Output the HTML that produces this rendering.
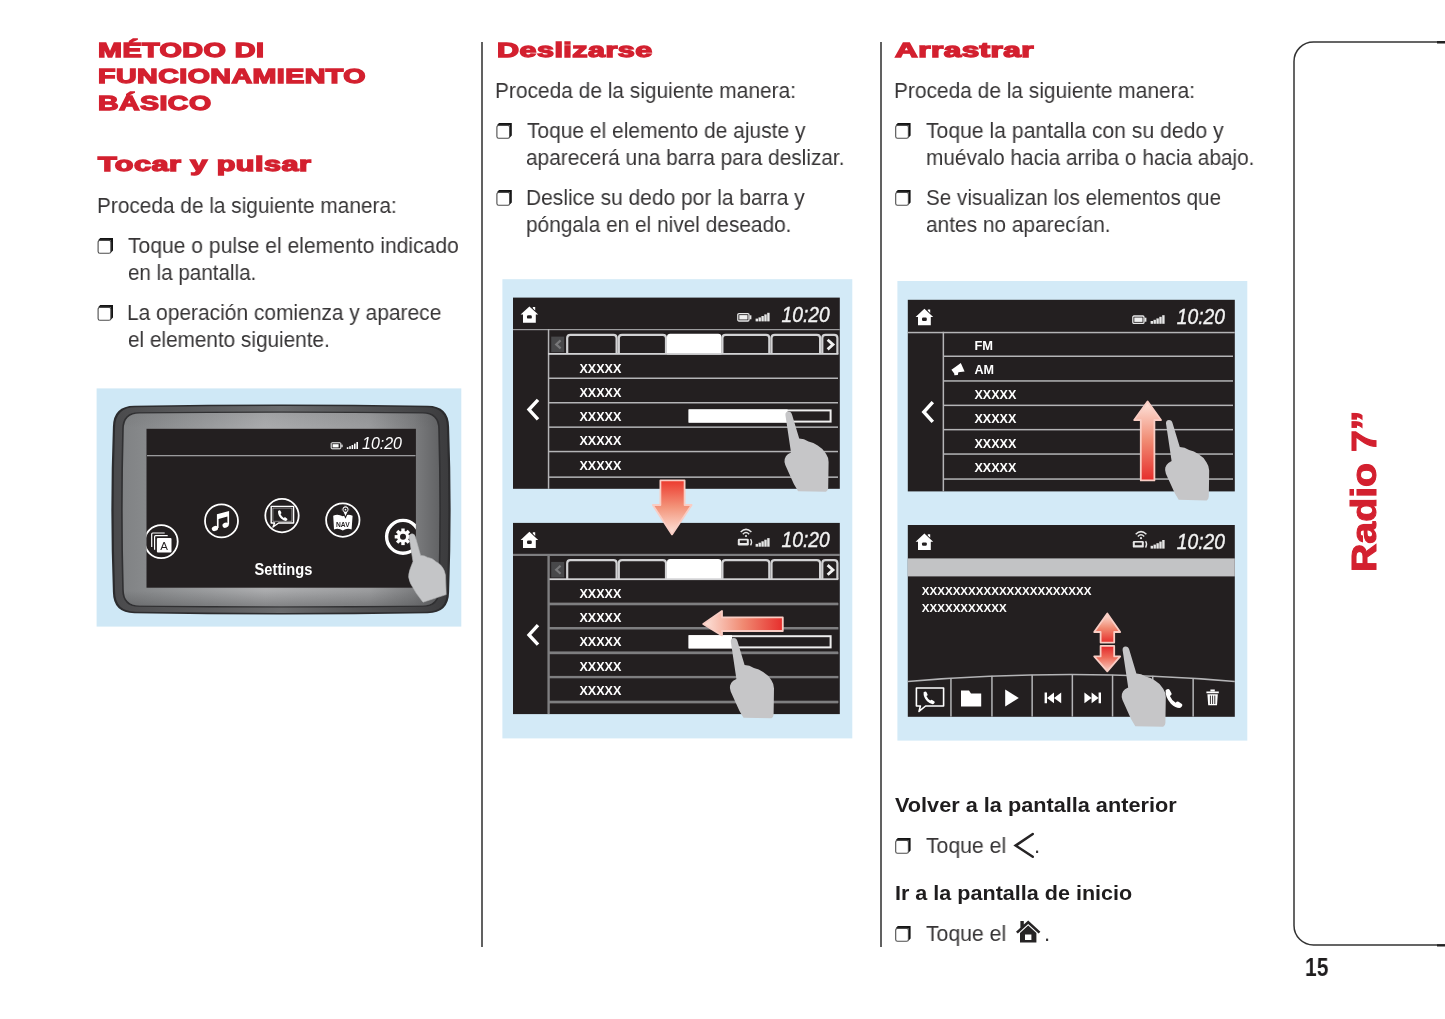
<!DOCTYPE html>
<html lang="es"><head><meta charset="utf-8"><title>Radio 7 - 15</title>
<style>
html,body{margin:0;padding:0;background:#fff;}
body{width:1445px;height:1019px;position:relative;overflow:hidden;font-family:"Liberation Sans",sans-serif;}
.t{position:absolute;white-space:nowrap;line-height:1;transform-origin:0 0;will-change:transform;}
.h{color:#d3202f;font-weight:bold;-webkit-text-stroke:1.3px #d3202f;letter-spacing:0.3px;}
.b{color:#373536;}
.bb{color:#1f1d1e;font-weight:bold;}
.pn{color:#1f1d1e;font-weight:bold;}
.h2{color:#d3202f;font-weight:bold;-webkit-text-stroke:1.1px #d3202f;}
.vl{position:absolute;width:1.7px;background:#616161;}
.abs{position:absolute;left:0;top:0;will-change:transform;}
</style></head>
<body>
<div class="vl" style="left:481.15px;top:41.5px;height:905.2px"></div>
<div class="vl" style="left:880.2px;top:41.5px;height:905.2px"></div>
<svg class="abs" width="1445" height="1019" viewBox="0 0 1445 1019"><defs><g id="cb"><path d="M2.6 0 H15.4 V12.4 L13.2 14.8 V2.3 H0.5 Z" fill="#141414"/><rect x="0.5" y="2.4" width="12.7" height="12.9" rx="1.8" fill="#fff" stroke="#4c4c4c" stroke-width="1.1"/></g></defs>
<use href="#cb" x="97.6" y="238.0"/><use href="#cb" x="97.6" y="305.0"/><use href="#cb" x="496.4" y="123.0"/><use href="#cb" x="496.4" y="190.0"/><use href="#cb" x="895.2" y="123.0"/><use href="#cb" x="895.2" y="190.0"/><use href="#cb" x="895.2" y="838.0"/><use href="#cb" x="895.2" y="926.0"/></svg>
<div class="t h" style="left:97.8px;top:41.33px;font-size:19.4px;transform:scaleX(1.4835);">MÉTODO DI</div>
<div class="t h" style="left:97.8px;top:67.33px;font-size:19.4px;transform:scaleX(1.4758);">FUNCIONAMIENTO</div>
<div class="t h" style="left:97.8px;top:94.33px;font-size:19.4px;transform:scaleX(1.4699);">BÁSICO</div>
<div class="t h" style="left:98.4px;top:155.33px;font-size:19.4px;transform:scaleX(1.5762);">Tocar y pulsar</div>
<div class="t b" style="left:97.2px;top:194.96px;font-size:22.2px;transform:scaleX(0.9384);">Proceda de la siguiente manera:</div>
<div class="t b" style="left:127.9px;top:234.96px;font-size:22.2px;transform:scaleX(0.9510);">Toque o pulse el elemento indicado</div>
<div class="t b" style="left:127.9px;top:261.96px;font-size:22.2px;transform:scaleX(0.9286);">en la pantalla.</div>
<div class="t b" style="left:127.2px;top:301.96px;font-size:22.2px;transform:scaleX(0.9438);">La operación comienza y aparece</div>
<div class="t b" style="left:127.9px;top:328.96px;font-size:22.2px;transform:scaleX(0.9349);">el elemento siguiente.</div>
<div class="t h" style="left:497px;top:41.33px;font-size:19.4px;transform:scaleX(1.5735);">Deslizarse</div>
<div class="t b" style="left:495.2px;top:79.96px;font-size:22.2px;transform:scaleX(0.9422);">Proceda de la siguiente manera:</div>
<div class="t b" style="left:526.8px;top:119.96px;font-size:22.2px;transform:scaleX(0.9444);">Toque el elemento de ajuste y</div>
<div class="t b" style="left:526.4px;top:146.96px;font-size:22.2px;transform:scaleX(0.9390);">aparecerá una barra para deslizar.</div>
<div class="t b" style="left:526.2px;top:186.96px;font-size:22.2px;transform:scaleX(0.9452);">Deslice su dedo por la barra y</div>
<div class="t b" style="left:526.4px;top:213.96px;font-size:22.2px;transform:scaleX(0.9398);">póngala en el nivel deseado.</div>
<div class="t h" style="left:895.4px;top:41.33px;font-size:19.4px;transform:scaleX(1.6219);">Arrastrar</div>
<div class="t b" style="left:894.0px;top:79.96px;font-size:22.2px;transform:scaleX(0.9422);">Proceda de la siguiente manera:</div>
<div class="t b" style="left:925.8px;top:119.96px;font-size:22.2px;transform:scaleX(0.9536);">Toque la pantalla con su dedo y</div>
<div class="t b" style="left:925.8px;top:146.96px;font-size:22.2px;transform:scaleX(0.9378);">muévalo hacia arriba o hacia abajo.</div>
<div class="t b" style="left:926.0px;top:186.96px;font-size:22.2px;transform:scaleX(0.9306);">Se visualizan los elementos que</div>
<div class="t b" style="left:926.0px;top:213.96px;font-size:22.2px;transform:scaleX(0.9407);">antes no aparecían.</div>
<div class="t bb" style="left:895.0px;top:795.14px;font-size:20.8px;transform:scaleX(1.0427);">Volver a la pantalla anterior</div>
<div class="t b" style="left:925.8px;top:834.96px;font-size:22.2px;transform:scaleX(0.9560);">Toque el</div>
<div class="t b" style="left:1034.2px;top:834.96px;font-size:22.2px;">.</div>
<div class="t bb" style="left:895.0px;top:883.14px;font-size:20.8px;transform:scaleX(1.0365);">Ir a la pantalla de inicio</div>
<div class="t b" style="left:925.8px;top:922.96px;font-size:22.2px;transform:scaleX(0.9560);">Toque el</div>
<div class="t b" style="left:1044.2px;top:922.96px;font-size:22.2px;">.</div>
<div class="t pn" style="left:1305.4px;top:954.40px;font-size:26.4px;transform:scaleX(0.7970);">15</div>
<div class="t h2" style="left:1346.10px;top:572.2px;font-size:35.2px;transform:rotate(-90deg) scaleX(1.1162);">Radio 7”</div>
<svg class="abs" width="1445" height="1019" viewBox="0 0 1445 1019">
<path d="M1446 41.9 H1313.5 A19.5 19.5 0 0 0 1294 61.4 V925.4 A19.5 19.5 0 0 0 1313.5 944.9 H1446" fill="none" stroke="#333" stroke-width="1.5"/>
<path d="M1437 42.2 H1446 M1437 945.4 H1446" stroke="#222" stroke-width="2.4" fill="none"/>
</svg>
<svg class="abs" width="1445" height="1019" viewBox="0 0 1445 1019">
<defs>
<linearGradient id="bz" x1="0" x2="1" y1="0" y2="0">
<stop offset="0" stop-color="#808284"/><stop offset="0.1" stop-color="#8a8c8e"/><stop offset="0.45" stop-color="#abacae"/><stop offset="0.78" stop-color="#9a9b9d"/><stop offset="0.92" stop-color="#7c7d7f"/><stop offset="1" stop-color="#626365"/>
</linearGradient>
<linearGradient id="bzv" x1="0" x2="0" y1="0" y2="1">
<stop offset="0" stop-color="#4a4b4d" stop-opacity="0.1"/><stop offset="0.08" stop-color="#4a4b4d" stop-opacity="0"/><stop offset="0.92" stop-color="#4a4b4d" stop-opacity="0"/><stop offset="1" stop-color="#4a4b4d" stop-opacity="0.4"/>
</linearGradient>
<linearGradient id="ring" x1="0" x2="1" y1="0" y2="0">
<stop offset="0" stop-color="#4a4a4c"/><stop offset="0.5" stop-color="#6a6b6d"/><stop offset="1" stop-color="#3c3c3e"/>
</linearGradient>
<clipPath id="sc1"><rect x="146.5" y="428.8" width="269.4" height="158.9"/></clipPath>
</defs>
<rect x="96.6" y="388.4" width="364.7" height="238.2" fill="#cfe8f6"/>
<!-- device body -->
<path d="M134.4 405.7 Q281.0 403.3 427.6 405.7 Q448.8 405.9 449.1 426.9 Q452.2 509.5 449.1 592.1 Q448.8 613.1 427.6 613.3 Q281.0 615.7 134.4 613.3 Q113.2 613.1 112.9 592.1 Q109.8 509.5 112.9 426.9 Q113.2 405.9 134.4 405.7 Z" fill="#2c2c2e"/>
<path d="M135.5 407.2 Q281.0 405.0 426.5 407.2 Q446.7 407.4 446.9 427.4 Q449.8 509.5 446.9 591.6 Q446.7 611.6 426.5 611.8 Q281.0 614.0 135.5 611.8 Q115.3 611.6 115.1 591.6 Q112.2 509.5 115.1 427.4 Q115.3 407.4 135.5 407.2 Z" fill="url(#ring)"/>
<path d="M138.9 412.3 Q281.0 410.5 423.1 412.3 Q439.6 412.4 439.8 428.8 Q442.1 509.5 439.8 590.2 Q439.6 606.6 423.1 606.7 Q281.0 608.5 138.9 606.7 Q122.4 606.6 122.2 590.2 Q119.9 509.5 122.2 428.8 Q122.4 412.4 138.9 412.3 Z" fill="#303032"/>
<path d="M139.6 413.6 Q281.0 412.0 422.4 413.6 Q438.1 413.8 438.2 429.3 Q440.4 509.5 438.2 589.7 Q438.1 605.2 422.4 605.4 Q281.0 607.0 139.6 605.4 Q123.9 605.2 123.8 589.7 Q121.6 509.5 123.8 429.3 Q123.9 413.8 139.6 413.6 Z" fill="url(#bz)"/>
<path d="M139.6 413.6 Q281.0 412.0 422.4 413.6 Q438.1 413.8 438.2 429.3 Q440.4 509.5 438.2 589.7 Q438.1 605.2 422.4 605.4 Q281.0 607.0 139.6 605.4 Q123.9 605.2 123.8 589.7 Q121.6 509.5 123.8 429.3 Q123.9 413.8 139.6 413.6 Z" fill="url(#bzv)"/>
<!-- screen -->
<rect x="146.5" y="428.8" width="269.4" height="158.9" fill="#231f20"/>
<rect x="147" y="455" width="268.5" height="1.3" fill="#9a9a9c"/>
<!-- status: battery, signal, time -->
<g fill="#fff">
<rect x="331.2" y="442.8" width="9.6" height="6" rx="0.8" fill="none" stroke="#fff" stroke-width="1"/>
<rect x="332.6" y="444.2" width="6" height="3.2"/>
<rect x="341.4" y="444.6" width="1.2" height="2.6"/>
<rect x="346.8" y="447.2" width="1.6" height="1.8"/><rect x="349.2" y="446.2" width="1.6" height="2.8"/><rect x="351.6" y="445" width="1.6" height="4"/><rect x="354" y="443.6" width="1.6" height="5.4"/><rect x="356.4" y="442" width="1.6" height="7"/>
</g>
<text x="362" y="449" font-family="Liberation Sans, sans-serif" font-style="italic" font-size="16.2" fill="#fff" textLength="40" lengthAdjust="spacingAndGlyphs">10:20</text>
<g clip-path="url(#sc1)">
<!-- A icon -->
<g transform="translate(161.2 541.6)" fill="none" stroke="#fff" stroke-width="1.8">
<circle r="16.5"/>
<path d="M-9.5 5.5 V-7.6 Q-9.5 -8.6 -8.5 -8.6 H3.5" stroke-width="1.2"/>
<path d="M-6.6 8.2 V-4.9 Q-6.6 -5.9 -5.6 -5.9 H6.5" stroke-width="1.2"/>
<rect x="-4.3" y="-3.6" width="14.6" height="14.6" rx="1" fill="#fff" stroke="none"/>
<text x="3" y="8.7" text-anchor="middle" font-family="Liberation Sans, sans-serif" font-size="11.5" fill="#231f20" stroke="none">A</text>
</g>
<!-- music icon -->
<g transform="translate(221.5 520.9)">
<circle r="16.5" fill="none" stroke="#fff" stroke-width="1.8"/>
<path d="M-4.6 -6.6 L7.6 -10 V3.6 H5.9 V-4.4 L-2.9 -2 V7.2 H-4.6 Z" fill="#fff"/>
<ellipse cx="-6.6" cy="7.6" rx="3.2" ry="2.5" fill="#fff" transform="rotate(-20 -6.6 7.6)"/>
<ellipse cx="4.1" cy="4.3" rx="3.2" ry="2.5" fill="#fff" transform="rotate(-20 4.1 4.3)"/>
</g>
<!-- phone/chat icon -->
<g transform="translate(282 515.6)" fill="none" stroke="#fff">
<circle r="16.7" stroke-width="1.8"/>
<path d="M-10.8 -9.2 H11.6 V7.4 H-3.4 L-9 11.4 L-7.4 7.4 H-10.8 Z" stroke-width="1.4" stroke-linejoin="round"/>
<path d="M-9.1 -7.5 H9.9 V5.7 H-9.1 Z" stroke-width="0.6" opacity="0.8"/>
<path transform="translate(0.8 0.9) scale(1.08)" d="M-4.4 -5.2 q1.6 -1.2 2.2 -0.2 l0.9 1.9 q0.2 0.8 -0.9 1.3 q1 2.3 3 3.5 q0.8 -0.9 1.5 -0.5 l1.8 1.2 q0.7 0.8 -0.8 2 q-2 0.5 -5 -2.2 q-3 -3.3 -2.700 -7 Z" fill="#fff" stroke="none"/>
</g>
<!-- NAV icon -->
<g transform="translate(342.8 520.1)">
<circle r="16.7" fill="none" stroke="#fff" stroke-width="1.8"/>
<path d="M-9.6 -4.4 Q-5 -6.6 0 -3.8 Q5 -6.6 9.8 -4.4 L8.8 9.4 Q4.4 7.6 0 10.4 Q-4.4 7.6 -8.8 9.4 Z" fill="#fff"/>
<text x="0" y="6.6" text-anchor="middle" font-family="Liberation Sans, sans-serif" font-size="8" font-weight="bold" fill="#231f20" textLength="13.6" lengthAdjust="spacingAndGlyphs">NAV</text>
<path d="M2.7 -2.6 L0.3 -8 A3.6 3.6 0 1 1 5.1 -8 Z" fill="#fff" stroke="#231f20" stroke-width="1.1"/>
<circle cx="2.7" cy="-10.4" r="2.1" fill="#231f20"/>
<circle cx="2.7" cy="-10.4" r="0.9" fill="#fff"/>
</g>
<!-- settings icon -->
<g transform="translate(403 536.8)">
<circle r="16.4" fill="none" stroke="#fff" stroke-width="3.4"/>
<g fill="#fff">
<circle r="6"/>
<g id="tooth"><rect x="-1.700" y="-8.3" width="3.4" height="3.6" /></g>
<use href="#tooth" transform="rotate(45)"/><use href="#tooth" transform="rotate(90)"/><use href="#tooth" transform="rotate(135)"/><use href="#tooth" transform="rotate(180)"/><use href="#tooth" transform="rotate(225)"/><use href="#tooth" transform="rotate(270)"/><use href="#tooth" transform="rotate(315)"/>
</g>
<circle r="3" fill="#231f20"/>
</g>
</g>
<text x="254.6" y="574.9" font-family="Liberation Sans, sans-serif" font-weight="bold" font-size="15.600" fill="#fff" textLength="57.8" lengthAdjust="spacingAndGlyphs">Settings</text>
<!-- hand -->
<path d="M409.200 537.5 Q409.200 533.8 412 533.8 Q414.6 533.8 415.400 537 L420.600 555.400 Q424.500 555.200 427.600 557.400 Q432.800 558 436 561.800 Q441.200 564 444.200 570.600 Q445.800 574 445.600 580 L446.200 594.600 L423 602.200 Q416 594 410.500 583.500 Q407.200 577 409.600 570.500 Q411 566.500 413 561.500 Z" fill="#c4c5c7" stroke="#b0b1b3" stroke-width="0.6"/>
</svg>
<svg class="abs" width="1445" height="1019" viewBox="0 0 1445 1019">
<defs>
<linearGradient id="rg_d" x1="0" x2="0" y1="0" y2="1"><stop offset="0" stop-color="#ec3a2e"/><stop offset="0.5" stop-color="#f3957b"/><stop offset="1" stop-color="#fde4dc"/></linearGradient>
<linearGradient id="rg_l" x1="1" x2="0" y1="0" y2="0"><stop offset="0" stop-color="#e62e2c"/><stop offset="0.5" stop-color="#f08a72"/><stop offset="1" stop-color="#fde4dc"/></linearGradient>
<linearGradient id="rg_u" x1="0" x2="0" y1="1" y2="0"><stop offset="0" stop-color="#e62e2c"/><stop offset="0.5" stop-color="#f08a72"/><stop offset="1" stop-color="#fde4dc"/></linearGradient>
<!-- home icon, origin = top-left of 17x17 box -->
<g id="home">
<path d="M8.6 0.2 L17.4 8.400 H15 V16.600 H2.200 V8.400 H-0.200 Z M12 2 V0.800 H14.400 V4.400 Z" fill="#fff"/>
<rect x="6.200" y="9" width="4.800" height="3.400" rx="1.200" fill="#231f20"/>
</g>
<!-- signal icon -->
<g id="sig" fill="#e6e6e6"><rect x="0" y="5.800" width="2.400" height="2.800"/><rect x="2.900" y="4.600" width="2.400" height="4"/><rect x="5.800" y="3.200" width="2.400" height="5.400"/><rect x="8.700" y="1.600" width="2.400" height="7"/><rect x="11.600" y="0" width="2.400" height="8.600"/></g>
<!-- battery icon -->
<g id="bat"><rect x="0.6" y="0.6" width="11.200" height="7.400" rx="1.200" fill="none" stroke="#e6e6e6" stroke-width="1.300"/><rect x="2.100" y="2.100" width="8.200" height="4.400" fill="#efefef"/><rect x="12.400" y="2.300" width="1.800" height="4" fill="#e6e6e6"/></g>
<!-- wifi-car icon, 15 x 19 box -->
<g id="wcar" fill="none" stroke="#e6e6e6">
<path d="M3.500 4.600 Q8.800 -0.600 14.200 4.600" stroke-width="1.500"/><path d="M5.600 6.800 Q8.800 3.600 12 6.800" stroke-width="1.400"/><circle cx="8.800" cy="8.600" r="1.100" fill="#e6e6e6" stroke="none"/>
<rect x="0.600" y="11.400" width="11" height="6.600" rx="1.200" fill="#e6e6e6" stroke="none"/><rect x="2.600" y="13" width="7" height="2.600" fill="#231f20" stroke="none"/><path d="M13.400 11.600 Q15.400 14.800 13.400 18" stroke-width="1.300"/>
</g>
<!-- hand pointer: origin at fingertip -->
<path id="hand" d="M-3.2 3 Q-3.4 -0.6 -0.2 -0.6 Q2.6 -0.6 3.4 2.600 L10.6 26.4 Q15.5 26.6 19.9 29.4 Q25 30.4 29.1 33.500 Q34.5 36.600 37.4 41.800 Q40 45.600 40 50 L39.600 76 Q39.400 79 37.400 79.800 L9.500 79.200 Q5 72.500 2.300 65.500 L-3.300 53.100 Q-4.600 49.600 -3.900 46.900 Q-3 43.800 -0.800 42.300 L2.400 40.400 Z" fill="#c6c6c8"/>
<!-- list screen shared -->
<g id="lscreen">
<rect x="513" y="297.600" width="326.800" height="191.200" fill="#231f20"/>
<use href="#home" x="520.800" y="306.200"/>
<use href="#sig" x="755.600" y="312.800"/>
<text x="781.600" y="321.600" font-family="Liberation Sans, sans-serif" font-style="italic" font-size="21.400" fill="#f2f2f2" stroke="#f2f2f2" stroke-width="0.400" textLength="48.200" lengthAdjust="spacingAndGlyphs">10:20</text>
<rect x="513" y="329" width="326.800" height="1.200" fill="#9c9c9e"/>
<rect x="547.800" y="329" width="1.500" height="159.800" fill="#b4b4b6"/>
<!-- tabs -->
<rect x="551.200" y="336.600" width="13" height="15.600" fill="#48484a"/>
<path d="M560.600 340.400 L556.200 344.400 L560.600 348.400" fill="none" stroke="#78787a" stroke-width="2.200"/>
<g fill="none" stroke="#d2d2d4" stroke-width="2.200">
<path d="M567.200 353.800 V338 Q567.200 334.800 570.400 334.800 H613.400 Q616.600 334.800 616.600 338 V353.800"/>
<path d="M618.800 353.800 V338 Q618.800 334.800 622 334.800 H662.800 Q666 334.800 666 338 V353.800"/>
<path d="M722.400 353.800 V338 Q722.400 334.800 725.600 334.800 H766.100 Q769.300 334.800 769.300 338 V353.800"/>
<path d="M771.500 353.800 V338 Q771.500 334.800 774.700 334.800 H816.900 Q820.100 334.800 820.100 338 V353.800"/>
<path d="M822.300 353.800 V338 Q822.300 334.800 825.500 334.800 H834.200 Q837.400 334.800 837.400 338 V353.800"/>
</g>
<path d="M667 354.400 V337 Q667 333.800 670.200 333.800 H718.200 Q721.400 333.800 721.400 337 V354.400 Z" fill="#fff"/>
<path d="M827.600 339.800 L833 344.600 L827.600 349.400" fill="none" stroke="#f0f0f0" stroke-width="2.800"/>
<!-- row lines -->
<g fill="#b4b4b6">
<rect x="548" y="353" width="290.400" height="1.800" fill="#d2d2d4"/>
<rect x="548" y="377.500" width="290" height="1.500"/>
<rect x="548" y="402" width="290" height="1.500"/>
<rect x="548" y="426.400" width="290" height="1.500"/>
<rect x="548" y="450.800" width="290" height="1.500"/>
<rect x="548" y="476.400" width="290" height="1.500"/>
</g>
<g font-family="Liberation Sans, sans-serif" font-weight="bold" font-size="12" fill="#fff">
<text x="579.400" y="372.900" textLength="42" lengthAdjust="spacingAndGlyphs">XXXXX</text>
<text x="579.400" y="397" textLength="42" lengthAdjust="spacingAndGlyphs">XXXXX</text>
<text x="579.400" y="421.200" textLength="42" lengthAdjust="spacingAndGlyphs">XXXXX</text>
<text x="579.400" y="445.400" textLength="42" lengthAdjust="spacingAndGlyphs">XXXXX</text>
<text x="579.400" y="469.800" textLength="42" lengthAdjust="spacingAndGlyphs">XXXXX</text>
</g>
<path d="M538 399.800 L529 409.600 L538 419.400" fill="none" stroke="#fff" stroke-width="3.400"/>
</g>
</defs>
<rect x="502.400" y="279.200" width="349.900" height="459.200" fill="#d3eaf7"/>
<!-- screen A -->
<use href="#lscreen"/>
<use href="#bat" x="737.200" y="313"/>
<rect x="689.600" y="410.400" width="141" height="11.200" fill="none" stroke="#eee" stroke-width="2"/>
<rect x="688.600" y="409.400" width="99" height="13.200" fill="#fff"/>
<!-- screen B -->
<use href="#lscreen" transform="translate(0 225.300)"/>
<use href="#wcar" x="737.200" y="527.400"/>
<g fill="#7e7e80">
<rect x="548" y="602.900" width="290.400" height="2.400"/><rect x="548" y="627.100" width="290.400" height="2.400"/><rect x="548" y="651.800" width="290.400" height="2.400"/><rect x="548" y="675.900" width="290.400" height="2.400"/><rect x="548" y="700.700" width="290.400" height="2.400"/>
<rect x="513" y="553.800" width="326.800" height="2.200"/><rect x="547.600" y="554" width="2" height="159.800"/>
</g>
<rect x="689.600" y="636.200" width="141" height="11.200" fill="none" stroke="#eee" stroke-width="2"/>
<rect x="688.600" y="635.200" width="43.400" height="13.200" fill="#fff"/>
<!-- arrows -->
<path d="M660.400 480.400 H684.600 V505 H691.600 L672 534.400 L652.800 505 H660.400 Z" fill="url(#rg_d)" stroke="#f9cdc4" stroke-width="1.800" stroke-linejoin="round"/>
<path d="M782.800 617.400 V631 H722 V635.400 L703.200 624 L722 611 V617.400 Z" fill="url(#rg_l)" stroke="#f9cdc4" stroke-width="1.800" stroke-linejoin="round"/>
<!-- hands -->
<use href="#hand" x="788.600" y="412"/>
<use href="#hand" x="734" y="638.500"/>
</svg>
<svg class="abs" width="1445" height="1019" viewBox="0 0 1445 1019">
<defs>
<linearGradient id="rg_dd" x1="0" x2="0" y1="0" y2="1"><stop offset="0" stop-color="#e3262a"/><stop offset="0.45" stop-color="#ee6a58"/><stop offset="1" stop-color="#f9d0c6"/></linearGradient>
</defs>
<rect x="897.400" y="281" width="349.900" height="459.600" fill="#d3eaf7"/>
<!-- screen C -->
<rect x="907.800" y="299.800" width="327" height="191.600" fill="#231f20"/>
<use href="#home" x="915.800" y="308.600"/>
<use href="#bat" x="1132.200" y="315.400"/>
<use href="#sig" x="1150.600" y="315.200"/>
<text x="1176.800" y="324" font-family="Liberation Sans, sans-serif" font-style="italic" font-size="21.400" fill="#f2f2f2" stroke="#f2f2f2" stroke-width="0.400" textLength="48.200" lengthAdjust="spacingAndGlyphs">10:20</text>
<g fill="#b4b4b6">
<rect x="907.800" y="331.800" width="327" height="1.500"/>
<rect x="942.600" y="331.800" width="1.500" height="159.600"/>
<rect x="943" y="355.500" width="290" height="1.500"/>
<rect x="943" y="380.200" width="290" height="1.500"/>
<rect x="943" y="404.600" width="290" height="1.500"/>
<rect x="943" y="428.900" width="290" height="1.500"/>
<rect x="943" y="453.300" width="290" height="1.500"/>
<rect x="943" y="478.300" width="290" height="1.500"/>
</g>
<g font-family="Liberation Sans, sans-serif" font-weight="bold" font-size="12" fill="#fff">
<text x="974.400" y="349.700" textLength="18.600" lengthAdjust="spacingAndGlyphs">FM</text>
<text x="974.400" y="374.400" textLength="19.600" lengthAdjust="spacingAndGlyphs">AM</text>
<text x="974.400" y="398.800" textLength="42" lengthAdjust="spacingAndGlyphs">XXXXX</text>
<text x="974.400" y="423.100" textLength="42" lengthAdjust="spacingAndGlyphs">XXXXX</text>
<text x="974.400" y="447.500" textLength="42" lengthAdjust="spacingAndGlyphs">XXXXX</text>
<text x="974.400" y="471.800" textLength="42" lengthAdjust="spacingAndGlyphs">XXXXX</text>
</g>
<!-- speaker -->
<path d="M951.400 369.800 L955 367.200 L960.800 363 L964.600 371.600 L958.400 372.200 L957.800 375 L954.400 375.200 L954.200 373.600 Z" fill="#fff"/>
<path d="M932.800 402.200 L923.800 412 L932.800 421.800" fill="none" stroke="#fff" stroke-width="3.400"/>
<!-- up arrow -->
<path d="M1140.800 480.400 V420 H1134.200 L1147.500 401.400 L1161 420 H1154.400 V480.400 Z" fill="url(#rg_u)" stroke="#f9cdc4" stroke-width="1.800" stroke-linejoin="round"/>
<use href="#hand" x="1169.200" y="420.600"/>
<!-- screen D -->
<rect x="907.800" y="525" width="327" height="191.800" fill="#231f20"/>
<use href="#home" x="915.800" y="533.400"/>
<use href="#wcar" x="1132.200" y="529.600"/>
<use href="#sig" x="1150.600" y="540"/>
<text x="1176.800" y="548.800" font-family="Liberation Sans, sans-serif" font-style="italic" font-size="21.400" fill="#f2f2f2" stroke="#f2f2f2" stroke-width="0.400" textLength="48.200" lengthAdjust="spacingAndGlyphs">10:20</text>
<rect x="907.800" y="558.400" width="327" height="18" fill="#c2c3c5"/>
<g font-family="Liberation Sans, sans-serif" font-weight="bold" font-size="11" fill="#fff">
<text x="921.800" y="595.200" textLength="169.600" lengthAdjust="spacingAndGlyphs">XXXXXXXXXXXXXXXXXXXXXX</text>
<text x="921.800" y="612.400" textLength="84.800" lengthAdjust="spacingAndGlyphs">XXXXXXXXXXX</text>
</g>
<!-- toolbar -->
<path d="M907.800 681.400 Q1071 667.600 1234.800 681.400" fill="none" stroke="#b4b4b6" stroke-width="1.500"/>
<g fill="#b4b4b6">
<rect x="950.200" y="678" width="1.500" height="38.600"/><rect x="991.200" y="675.800" width="1.500" height="40.800"/><rect x="1031.400" y="674.800" width="1.500" height="41.800"/><rect x="1071.600" y="674.400" width="1.500" height="42.200"/><rect x="1111.800" y="674.800" width="1.500" height="41.800"/><rect x="1152" y="675.800" width="1.500" height="40.800"/><rect x="1192.400" y="678" width="1.500" height="38.600"/>
</g>
<!-- toolbar icons -->
<g fill="#fff">
<path d="M916.400 688 H943.600 V706 H925.600 L919 711.400 L920.400 706 H916.400 Z" fill="none" stroke="#fff" stroke-width="1.600" stroke-linejoin="round"/>
<path d="M923.600 692.200 q2 -1.500 2.800 -0.200 l1.200 2.400 q0.300 1 -1.200 1.700 q1.300 3 3.900 4.500 q1 -1.200 1.900 -0.600 l2.300 1.500 q0.900 1 -1 2.600 q-2.600 0.600 -6.400 -2.800 q-3.900 -4.300 -3.500 -9.100 Z"/>
<path d="M961 693.400 V690.400 H969 L971 693.400 H981.200 V706.400 H961 Z"/>
<path d="M1005.200 689.600 L1018.800 698 L1005.200 706.400 Z"/>
<path d="M1044.600 692.600 h2.400 v10.600 h-2.400 Z M1047 697.900 L1054 692.600 V703.200 Z M1054 697.900 L1061.200 692.600 V703.200 Z"/>
<path d="M1101 692.600 h-2.400 v10.600 h2.400 Z M1098.600 697.900 L1091.600 692.600 V703.200 Z M1091.600 697.900 L1084.400 692.600 V703.200 Z"/>
<path transform="translate(1165.600 690.200) scale(1.2) translate(-1165.600 -690.200)" d="M1165.600 690.200 q2.400 -1.800 3.400 -0.200 l1.600 3 q0.400 1.200 -1.400 2 q1.600 3.800 4.800 5.600 q1.200 -1.500 2.400 -0.800 l2.800 1.900 q1.100 1.200 -1.200 3.200 q-3.200 0.800 -8 -3.500 q-4.800 -5.300 -4.400 -11.200 Z"/>
<path d="M1206.400 691.600 H1218.800 V693.200 H1206.400 Z M1210.400 689.600 H1214.800 V691.200 H1210.400 Z M1207.400 694.200 H1217.800 L1217 705.200 H1208.200 Z"/>
</g>
<g stroke="#231f20" stroke-width="0.900"><path d="M1210.400 695.600 V704 M1212.600 695.600 V704 M1214.800 695.600 V704"/></g>
<!-- double arrow -->
<path d="M1100.600 642.600 V632 H1094.200 L1107.300 613.400 L1120.200 632 H1114.200 V642.600 Z" fill="url(#rg_u)" stroke="#f9cdc4" stroke-width="1.800" stroke-linejoin="round"/>
<path d="M1100.600 645.800 V656.400 H1094.200 L1107.300 671.400 L1120.200 656.400 H1114.200 V645.800 Z" fill="url(#rg_dd)" stroke="#f9cdc4" stroke-width="1.800" stroke-linejoin="round"/>
<use href="#hand" x="1125.800" y="647"/>
</svg>
<svg class="abs" width="1445" height="1019" viewBox="0 0 1445 1019">
<path d="M1032.800 834 L1015.600 845.600 L1032.800 856.800" fill="none" stroke="#262425" stroke-width="2.500" stroke-linecap="round" stroke-linejoin="miter"/>
<g fill="#262425">
<path d="M1028.200 920.600 L1040.400 931.800 L1038.600 933.400 L1028.200 924 L1017.800 933.400 L1016 931.800 L1020.400 927.800 V921 H1023.800 V924.600 Z"/>
<path d="M1028.200 925.600 L1036.400 933 V942.600 H1020 V933 Z M1025 934.600 V940 H1031.400 V934.600 Z" fill-rule="evenodd"/>
</g>
</svg>
</body></html>
